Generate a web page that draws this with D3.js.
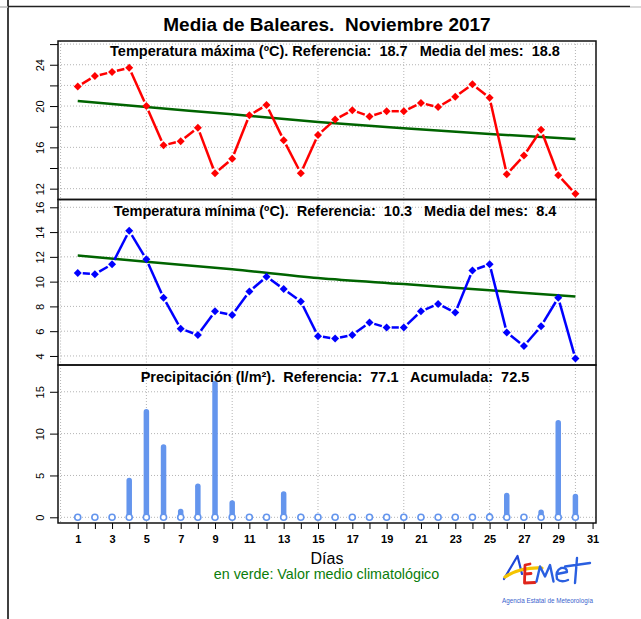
<!DOCTYPE html>
<html>
<head>
<meta charset="utf-8">
<script src="https://cdn.jsdelivr.net/npm/d3@7"></script>
<style>
  body { margin: 0; background: #fff; }
  svg { display: block; font-family: "Liberation Sans", Arial, Helvetica, sans-serif; }
  text { white-space: pre; }
</style>
</head>
<body>
<div class="D3"></div>
<script>
// data
var days = d3.range(1, 31);

var tmax = [21.9, 22.9, 23.3, 23.7, 20.0, 16.2, 16.6, 17.9, 13.5, 14.9,
            19.1, 20.1, 16.7, 13.5, 17.2, 18.7, 19.6, 19.0, 19.5, 19.5,
            20.3, 19.9, 20.9, 22.1, 20.8, 13.4, 15.2, 17.7, 13.3, 11.5];
var tmin = [10.7, 10.6, 11.4, 14.1, 11.8, 8.7, 6.2, 5.7, 7.6, 7.3,
            9.2, 10.4, 9.4, 8.4, 5.6, 5.4, 5.7, 6.7, 6.3, 6.3,
            7.6, 8.2, 7.5, 10.9, 11.4, 5.9, 4.8, 6.4, 8.7, 3.8];
var precip = [0, 0, 0, 4.4, 12.6, 8.4, 0.7, 3.7, 16.0, 1.7,
              0, 0, 2.8, 0.1, 0, 0, 0, 0, 0, 0,
              0, 0, 0, 0, 0.2, 2.6, 0, 0.6, 11.3, 2.5];

// climatological reference (green), read at a few days
var climDays = [1, 5, 10, 15, 20, 25, 30];
var climMax = [20.5, 19.9, 19.2, 18.45, 17.85, 17.3, 16.8];
var climMin = [12.1, 11.6, 11.0, 10.3, 9.8, 9.3, 8.8];

var maxTicks = [12, 14, 16, 18, 20, 22, 24, 26];
var maxLabels = [12, 16, 20, 24];
var minTicks = [4, 6, 8, 10, 12, 14, 16];
var precTicks = [0, 5, 10, 15];
var xGrid = [0, 5, 10, 15, 20, 25, 30];
var xTickLabels = d3.range(1, 32, 2);

var title = "Media de Baleares.  Noviembre 2017";
var sub1 = "Temperatura máxima (ºC). Referencia:  18.7   Media del mes:  18.8";
var sub2 = "Temperatura mínima (ºC).  Referencia:  10.3   Media del mes:  8.4";
var sub3 = "Precipitación (l/m²).  Referencia:  77.1   Acumulada:  72.5";

var svgWidth = 641;
var svgHeight = 619;
var left = 58, right = 596;

var svg = d3.select(".D3").append("svg")
  .attr("width", svgWidth)
  .attr("height", svgHeight);

// outer frame bits
svg.append("line").attr("x1", 8).attr("x2", 8).attr("y1", 0).attr("y2", 619)
  .attr("stroke", "#000").attr("stroke-width", 1.5);
svg.append("line").attr("x1", 8).attr("x2", 630).attr("y1", 6.5).attr("y2", 6.5)
  .attr("stroke", "#222").attr("stroke-width", 1.5);
svg.append("line").attr("x1", 0).attr("x2", 8).attr("y1", 7).attr("y2", 7)
  .attr("stroke", "#bbb").attr("stroke-width", 1.5);
svg.append("line").attr("x1", 630).attr("x2", 641).attr("y1", 7).attr("y2", 7)
  .attr("stroke", "#ccc").attr("stroke-width", 1.5);

var x = d3.scaleLinear().domain([-0.15, 31.2]).range([left, right]);

var panels = [
  { top: 41, bottom: 199.5, domain: [10.95, 26.3], ticks: maxTicks, labels: maxLabels, sub: sub1, subY: 56 },
  { top: 199.5, bottom: 365, domain: [3.27, 16.63], ticks: minTicks, labels: minTicks, sub: sub2, subY: 215.5 },
  { top: 365, bottom: 523, domain: [-0.68, 18.2], ticks: precTicks, labels: precTicks, sub: sub3, subY: 381.5 }
];

panels.forEach(function (p) {
  p.y = d3.scaleLinear().domain(p.domain).range([p.bottom, p.top]);
  var g = svg.append("g");

  // grid
  g.selectAll(".hg").data(p.ticks).enter().append("line")
    .attr("x1", left).attr("x2", right)
    .attr("y1", d => p.y(d)).attr("y2", d => p.y(d))
    .attr("stroke", "#b4b4b4").attr("stroke-width", 1).attr("stroke-dasharray", "1,2");
  g.selectAll(".vg").data(xGrid).enter().append("line")
    .attr("x1", d => x(d)).attr("x2", d => x(d))
    .attr("y1", p.top).attr("y2", p.bottom)
    .attr("stroke", "#b4b4b4").attr("stroke-width", 1).attr("stroke-dasharray", "1,2");

  // left axis, labels turned like R's las = 0
  var axis = d3.axisLeft(p.y).tickValues(p.ticks).tickSize(8)
    .tickFormat(d => p.labels.indexOf(d) >= 0 ? d : "");
  var ax = svg.append("g").attr("transform", `translate(${left},0)`).call(axis);
  ax.select(".domain").remove();
  ax.selectAll("line").attr("stroke", "#000").attr("stroke-width", 1);
  ax.selectAll("text")
    .attr("font-size", 11)
    .attr("font-family", "Liberation Sans, Arial, sans-serif")
    .attr("fill", "#000")
    .attr("transform", "rotate(-90)")
    .attr("x", 0).attr("y", -18).attr("dy", "0.35em")
    .attr("text-anchor", "middle");

  p.g = g;
});

// climatological green lines
var climLine1 = d3.line().curve(d3.curveMonotoneX)
  .x((d, i) => x(climDays[i])).y(d => panels[0].y(d));
var climLine2 = d3.line().curve(d3.curveMonotoneX)
  .x((d, i) => x(climDays[i])).y(d => panels[1].y(d));
panels[0].g.append("path").attr("d", climLine1(climMax))
  .attr("fill", "none").attr("stroke", "#006400").attr("stroke-width", 2.5);
panels[1].g.append("path").attr("d", climLine2(climMin))
  .attr("fill", "none").attr("stroke", "#006400").attr("stroke-width", 2.5);

// line with gaps near points (like R type = "b")
function drawSeries(g, yScale, values, color) {
  var pts = values.map((v, i) => [x(days[i]), yScale(v)]);
  var gap = 5;
  for (var i = 0; i < pts.length - 1; i++) {
    var a = pts[i], b = pts[i + 1];
    var dx = b[0] - a[0], dy = b[1] - a[1];
    var len = Math.sqrt(dx * dx + dy * dy);
    if (len <= gap * 2) continue;
    var ux = dx / len, uy = dy / len;
    g.append("line")
      .attr("x1", a[0] + ux * gap).attr("y1", a[1] + uy * gap)
      .attr("x2", b[0] - ux * gap).attr("y2", b[1] - uy * gap)
      .attr("stroke", color).attr("stroke-width", 2.5);
  }
  g.selectAll(".pt").data(pts).enter().append("path")
    .attr("d", d => `M${d[0]},${d[1] - 4}L${d[0] + 4},${d[1]}L${d[0]},${d[1] + 4}L${d[0] - 4},${d[1]}Z`)
    .attr("fill", color);
}
drawSeries(panels[0].g, panels[0].y, tmax, "#ff0000");
drawSeries(panels[1].g, panels[1].y, tmin, "#0000ff");

// precipitation bars
var py = panels[2].y;
var wet = precip.map((v, i) => [days[i], v]).filter(d => d[1] > 0);
panels[2].g.selectAll(".bar").data(wet).enter().append("line")
  .attr("x1", d => x(d[0])).attr("x2", d => x(d[0]))
  .attr("y1", py(0)).attr("y2", d => py(d[1]))
  .attr("stroke", "#6495ed").attr("stroke-width", 5.5).attr("stroke-linecap", "round");
panels[2].g.selectAll(".dot").data(precip).enter().append("circle")
  .attr("cx", (d, i) => x(days[i])).attr("cy", py(0)).attr("r", 3)
  .attr("fill", "#fff").attr("stroke", "#6495ed").attr("stroke-width", 1.6);

// panel boxes and panel titles
panels.forEach(function (p) {
  svg.append("rect").attr("x", left).attr("y", p.top)
    .attr("width", right - left).attr("height", p.bottom - p.top)
    .attr("fill", "none").attr("stroke", "#111").attr("stroke-width", 1.5);
  svg.append("text").attr("x", 335).attr("y", p.subY)
    .attr("text-anchor", "middle").attr("font-size", 14.5).attr("font-weight", "bold")
    .text(p.sub);
});

// bottom axis
var xAxis = d3.axisBottom(x).tickValues(days.concat([31])).tickSize(6).tickPadding(6)
  .tickFormat(d => xTickLabels.indexOf(d) >= 0 ? d : "");
var xa = svg.append("g").attr("transform", "translate(0,523)").call(xAxis);
xa.select(".domain").remove();
xa.selectAll("line").attr("stroke", "#000").attr("stroke-width", 1);
xa.selectAll("text").attr("font-size", 11).attr("font-weight", "bold")
  .attr("font-family", "Liberation Sans, Arial, sans-serif").attr("fill", "#000");

// title and notes
svg.append("text").attr("x", 327).attr("y", 30.5).attr("text-anchor", "middle")
  .attr("font-size", 19).attr("font-weight", "bold").text(title);
svg.append("text").attr("x", 327).attr("y", 564).attr("text-anchor", "middle")
  .attr("font-size", 16).text("Días");
svg.append("text").attr("x", 326.5).attr("y", 578.5).attr("text-anchor", "middle")
  .attr("font-size", 14.3).attr("fill", "#0a7d0a").text("en verde: Valor medio climatológico");

// AEMET logo (rough)
var logo = svg.append("g").attr("transform", "translate(490,550)")
  .attr("fill", "none").attr("stroke-linecap", "round").attr("stroke-linejoin", "round");
logo.append("path").attr("d", "M14,29 L27.5,6 L32,24").attr("stroke", "#1f47d8").attr("stroke-width", 2.2);
logo.append("path").attr("d", "M15,27 Q30,17 52,18").attr("stroke", "#f5c400").attr("stroke-width", 3.2);
logo.append("path").attr("d", "M40,14 L35,15 L34.5,33 L45,32.5 M35,24 L41,23.5").attr("stroke", "#e0251b").attr("stroke-width", 2.8);
logo.append("path").attr("d", "M46.5,31.5 L50,16.5 L55,26.5 L60,15 L63.5,31.5").attr("stroke", "#2a5fe0").attr("stroke-width", 2.4);
logo.append("path").attr("d", "M67,24 L77,22 Q77,17 71,18 Q65,21 67,29 Q71,33 78,30").attr("stroke", "#2a5fe0").attr("stroke-width", 2.4);
logo.append("path").attr("d", "M87,8 L85,33 M75,16.5 L100,13").attr("stroke", "#2a5fe0").attr("stroke-width", 2.4);
svg.append("text").attr("x", 502).attr("y", 603).attr("font-size", 8)
  .attr("textLength", 91).attr("lengthAdjust", "spacingAndGlyphs")
  .attr("fill", "#3a5fcd").text("Agencia Estatal de Meteorología");
</script>
</body>
</html>
